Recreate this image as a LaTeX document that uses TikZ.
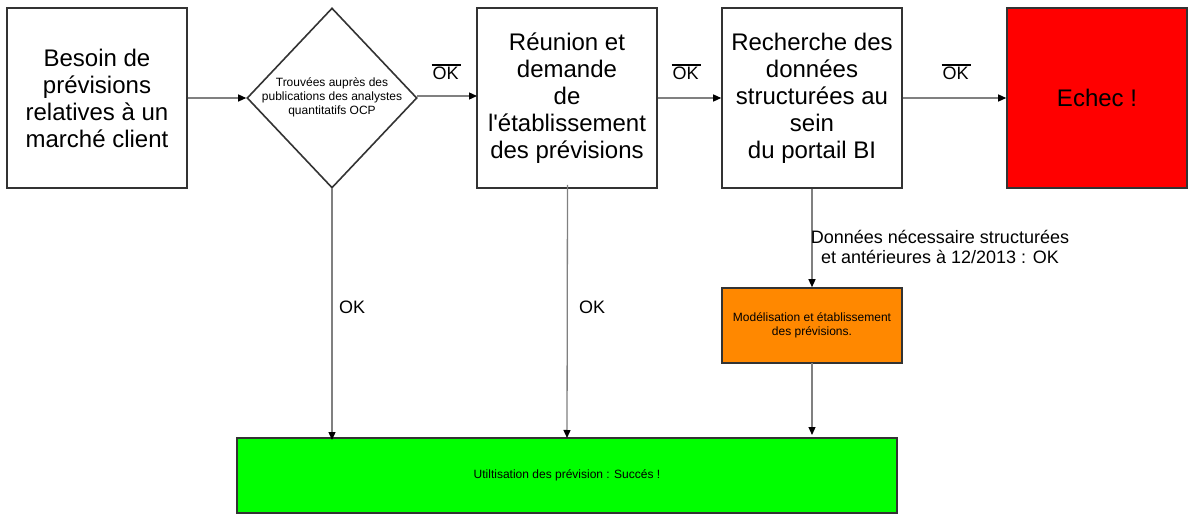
\documentclass[tikz,border=0pt]{standalone}
\usepackage{fontspec}
\setmainfont{Liberation Sans}
\usetikzlibrary{arrows.meta,shapes.geometric}
\newcommand\OKbar{\leavevmode\vbox{\hrule height 1.3pt\kern1.5pt\hbox{\kern1pt OK\kern2pt}}}
\begin{document}
\begin{tikzpicture}[x=1pt,y=-1pt,
  box/.style={draw=black!80,line width=1.6pt,minimum width=180pt,minimum height=180pt,inner sep=0pt,align=center,font=\fontsize{24}{27}\selectfont},
  smallbox/.style={draw=black!80,line width=1.6pt,inner sep=0pt,align=center,font=\fontsize{12}{14}\selectfont},
  conn/.style={draw=black!50,line width=1.3pt,-{Triangle[length=8pt,width=7pt,black]}},
  lbl/.style={font=\fontsize{18}{20}\selectfont,align=center,inner sep=0pt}]
\useasboundingbox (0,0) rectangle (1194,518);
\fill[white] (0,0) rectangle (1194,518);
\node[box] (besoin) at (97,98) {Besoin de\\prévisions\\relatives à un\\marché client};
\node[draw=black!80,line width=1.6pt,diamond,minimum width=170pt,minimum height=180pt,inner sep=0pt,font=\fontsize{12}{14}\selectfont] (diam) at (332,98) {\makebox[0pt][c]{\begin{tabular}{@{}c@{}}Trouvées auprès des\\publications des analystes\\quantitatifs OCP\end{tabular}}};
\node[box] (reunion) at (567,98) {Réunion et\\demande\\de\\l\textquotesingle établissement\\des prévisions};
\node[box] (recherche) at (812,98) {Recherche des\\données\\structurées au\\sein\\du portail BI};
\node[box,fill=red] (echec) at (1097,98) {Echec !};
\node[smallbox,fill={rgb,255:red,255;green,136;blue,0},minimum width=180pt,minimum height=75pt] (model) at (812,325.5) {Modélisation et établissement\\ des prévisions.};
\node[smallbox,fill={rgb,255:red,0;green,255;blue,0},minimum width=660pt,minimum height=75pt] (succes) at (567,475.5) {Utiltisation des prévision : Succés !};
\coordinate (dR) at (417,96);
\coordinate (rL) at (477,96);
\coordinate (dB) at (332,188);
\coordinate (gA) at (332,440);
\coordinate (rB) at (567.5,185);
\coordinate (gB) at (567,438);
\coordinate (mB) at (812,363);
\coordinate (gC) at (812,435);
\draw[conn] (besoin.east) -- (diam.west);
\draw[conn] (dR) -- (rL);
\draw[conn] (reunion.east) -- (recherche.west);
\draw[conn] (recherche.east) -- (echec.west);
\draw[conn] (dB) -- (gA);
\draw[conn] (rB) -- (gB);
\draw[conn] (recherche.south) -- (model.north);
\draw[conn] (mB) -- (gC);
\node[lbl] (ok1) at (446,72) {\OKbar};
\node[lbl] (ok2) at (686,72) {\OKbar};
\node[lbl] (ok3) at (956,72) {\OKbar};
\node[lbl] (ok4) at (352,307) {OK};
\node[lbl] (ok5) at (592,307) {OK};
\node[lbl] (don) at (940,247) {Données nécessaire structurées\\et antérieures à 12/2013 : OK};
\end{tikzpicture}
\end{document}
